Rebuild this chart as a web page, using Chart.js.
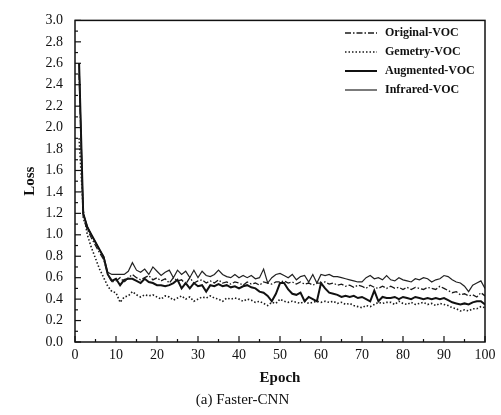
<!DOCTYPE html>
<html>
<head>
<meta charset="utf-8">
<script src="https://cdn.jsdelivr.net/npm/chart.js@4"></script>
<style>
html,body{margin:0;padding:0;background:#fff;}
canvas{display:block;}
</style>
</head>
<body>
<canvas id="c" width="501" height="415"></canvas>
<script>
const epochs = Array.from({length: 100}, (_, i) => i + 1);

const originalVOC = [2.5,1.15,1.05,0.97,0.9,0.83,0.77,0.63,0.56,0.57,
0.6,0.56,0.6,0.63,0.6,0.58,0.6,0.62,0.58,0.6,
0.57,0.59,0.55,0.6,0.57,0.58,0.54,0.6,0.55,0.57,
0.58,0.55,0.57,0.55,0.58,0.55,0.56,0.54,0.56,0.55,
0.53,0.56,0.54,0.55,0.53,0.56,0.55,0.54,0.56,0.56,
0.57,0.55,0.56,0.54,0.56,0.54,0.55,0.53,0.55,0.55,
0.56,0.54,0.55,0.53,0.54,0.52,0.53,0.51,0.53,0.52,
0.5,0.53,0.51,0.5,0.52,0.5,0.52,0.5,0.51,0.49,
0.51,0.49,0.51,0.5,0.49,0.51,0.5,0.49,0.52,0.5,
0.48,0.46,0.47,0.44,0.45,0.43,0.44,0.42,0.46,0.43];

const gemetryVOC = [1.9,1.23,1.0,0.88,0.78,0.68,0.6,0.52,0.47,0.46,
0.37,0.42,0.43,0.47,0.44,0.42,0.44,0.43,0.44,0.42,
0.4,0.43,0.42,0.39,0.41,0.43,0.4,0.42,0.38,0.4,
0.42,0.41,0.43,0.41,0.4,0.38,0.41,0.4,0.41,0.4,
0.38,0.4,0.39,0.37,0.38,0.36,0.34,0.37,0.36,0.4,
0.38,0.37,0.38,0.37,0.36,0.38,0.36,0.37,0.38,0.37,
0.38,0.37,0.38,0.36,0.37,0.35,0.36,0.34,0.33,0.32,
0.34,0.33,0.35,0.37,0.36,0.37,0.37,0.35,0.38,0.36,
0.35,0.37,0.35,0.36,0.37,0.35,0.36,0.34,0.36,0.35,
0.34,0.32,0.31,0.29,0.3,0.29,0.31,0.31,0.33,0.32];

const augmentedVOC = [2.6,1.2,1.07,1.0,0.93,0.86,0.79,0.63,0.57,0.59,
0.53,0.58,0.59,0.59,0.57,0.55,0.59,0.56,0.55,0.53,
0.53,0.52,0.53,0.55,0.58,0.5,0.55,0.5,0.55,0.52,
0.53,0.47,0.53,0.52,0.54,0.52,0.53,0.51,0.52,0.5,
0.52,0.53,0.51,0.5,0.47,0.46,0.43,0.38,0.45,0.55,
0.55,0.49,0.45,0.44,0.46,0.38,0.42,0.4,0.38,0.55,
0.5,0.46,0.45,0.44,0.42,0.43,0.42,0.43,0.41,0.42,
0.4,0.38,0.48,0.38,0.42,0.41,0.41,0.42,0.4,0.42,
0.41,0.4,0.42,0.41,0.4,0.41,0.4,0.41,0.4,0.41,
0.39,0.37,0.36,0.35,0.36,0.35,0.37,0.38,0.38,0.35];

const infraredVOC = [2.6,1.2,1.08,1.0,0.93,0.86,0.8,0.65,0.63,0.63,
0.63,0.63,0.66,0.74,0.67,0.65,0.68,0.63,0.7,0.66,
0.62,0.65,0.67,0.6,0.67,0.63,0.66,0.6,0.67,0.6,
0.66,0.62,0.61,0.63,0.67,0.63,0.61,0.6,0.63,0.6,
0.62,0.6,0.62,0.59,0.6,0.68,0.55,0.6,0.63,0.64,
0.62,0.6,0.63,0.58,0.61,0.62,0.56,0.63,0.55,0.63,
0.62,0.63,0.61,0.61,0.6,0.59,0.58,0.57,0.56,0.56,
0.6,0.62,0.59,0.6,0.58,0.62,0.58,0.57,0.6,0.58,
0.57,0.56,0.59,0.58,0.6,0.59,0.56,0.58,0.59,0.62,
0.61,0.58,0.56,0.55,0.52,0.47,0.53,0.55,0.57,0.5];

const seriesNames = ['Original-VOC', 'Gemetry-VOC', 'Augmented-VOC', 'Infrared-VOC'];
const yTicks = [0,0.2,0.4,0.6,0.8,1.0,1.2,1.4,1.6,1.8,2.0,2.2,2.4,2.6,2.8,3.0];
const xTicks = [0,10,20,30,40,50,60,70,80,90,100];

const toPts = arr => epochs.map((e, i) => ({x: e, y: arr[i]}));

const styles = [
  {borderColor:'#1a1a1a', borderWidth:1.3, borderDash:[6,2,1.5,2]},
  {borderColor:'#1a1a1a', borderWidth:1.6, borderDash:[1.5,2]},
  {borderColor:'#111', borderWidth:2.0, borderDash:[]},
  {borderColor:'#222', borderWidth:1.2, borderDash:[]}
];
const allSeries = [originalVOC, gemetryVOC, augmentedVOC, infraredVOC];

const datasets = allSeries.map((s, i) => Object.assign({
  label: seriesNames[i],
  data: toPts(s),
  pointRadius: 0,
  tension: 0,
  fill: false
}, styles[i]));

const serif = "'Liberation Serif', 'DejaVu Serif', serif";

const framePlugin = {
  id: 'frame',
  afterDraw(chart) {
    const ctx = chart.ctx, a = chart.chartArea;
    const xs = chart.scales.x, ys = chart.scales.y;
    ctx.save();
    ctx.strokeStyle = '#111';
    ctx.lineWidth = 1.5;
    ctx.strokeRect(a.left, a.top, a.right - a.left, a.bottom - a.top);
    ctx.lineWidth = 1.2;
    for (let k = 0; k <= 30; k++) {
      const v = k / 10;
      const py = ys.getPixelForValue(v);
      const len = (k % 2 === 0) ? 6 : 3;
      ctx.beginPath();
      ctx.moveTo(a.left, py);
      ctx.lineTo(a.left + len, py);
      ctx.stroke();
    }
    for (let v = 0; v <= 100; v += 5) {
      const px = xs.getPixelForValue(v);
      const len = (v % 10 === 0) ? 6 : 3;
      ctx.beginPath();
      ctx.moveTo(px, a.bottom);
      ctx.lineTo(px, a.bottom - len);
      ctx.stroke();
    }
    const ds = chart.data.datasets;
    ctx.font = 'bold 12px ' + serif;
    ctx.textBaseline = 'middle';
    ctx.textAlign = 'left';
    ctx.fillStyle = '#111';
    ds.forEach((d, i) => {
      const y = 33 + i * 19;
      ctx.beginPath();
      ctx.strokeStyle = d.borderColor;
      ctx.lineWidth = d.borderWidth;
      ctx.setLineDash(d.borderDash || []);
      ctx.moveTo(345, y);
      ctx.lineTo(377, y);
      ctx.stroke();
      ctx.setLineDash([]);
      ctx.fillText(d.label, 385, y);
    });
    ctx.restore();
  }
};

new Chart(document.getElementById('c'), {
  type: 'line',
  data: {datasets},
  plugins: [framePlugin],
  options: {
    responsive: false,
    animation: false,
    layout: {padding: {left: 0, right: 16, top: 14, bottom: 0}},
    plugins: {
      legend: {display: false},
      tooltip: {enabled: false},
      title: {
        display: true,
        position: 'bottom',
        text: '(a) Faster-CNN',
        color: '#111',
        font: {family: serif, size: 15, weight: 'normal'},
        padding: {top: 4, bottom: 6}
      }
    },
    scales: {
      x: {
        type: 'linear',
        min: 0, max: 100,
        afterBuildTicks: s => { s.ticks = xTicks.map(v => ({value: v})); },
        afterFit: s => { s.height = 45; },
        grid: {display: false, drawTicks: false},
        border: {display: false},
        ticks: {color: '#111', font: {family: serif, size: 14}, padding: 5, maxRotation: 0},
        title: {display: true, text: 'Epoch', color: '#111', font: {family: serif, size: 15, weight: 'bold'}, padding: {top: 0, bottom: 0}}
      },
      y: {
        type: 'linear',
        min: 0, max: 3,
        afterBuildTicks: s => { s.ticks = yTicks.map(v => ({value: v})); },
        afterFit: s => { s.width = 75; },
        grid: {display: false, drawTicks: false},
        border: {display: false},
        ticks: {color: '#111', font: {family: serif, size: 14}, padding: 12, callback: v => Number(v).toFixed(1)},
        title: {display: true, text: 'Loss', color: '#111', font: {family: serif, size: 15, weight: 'bold'}, padding: {top: 21, bottom: 0}}
      }
    }
  }
});
</script>
</body>
</html>
